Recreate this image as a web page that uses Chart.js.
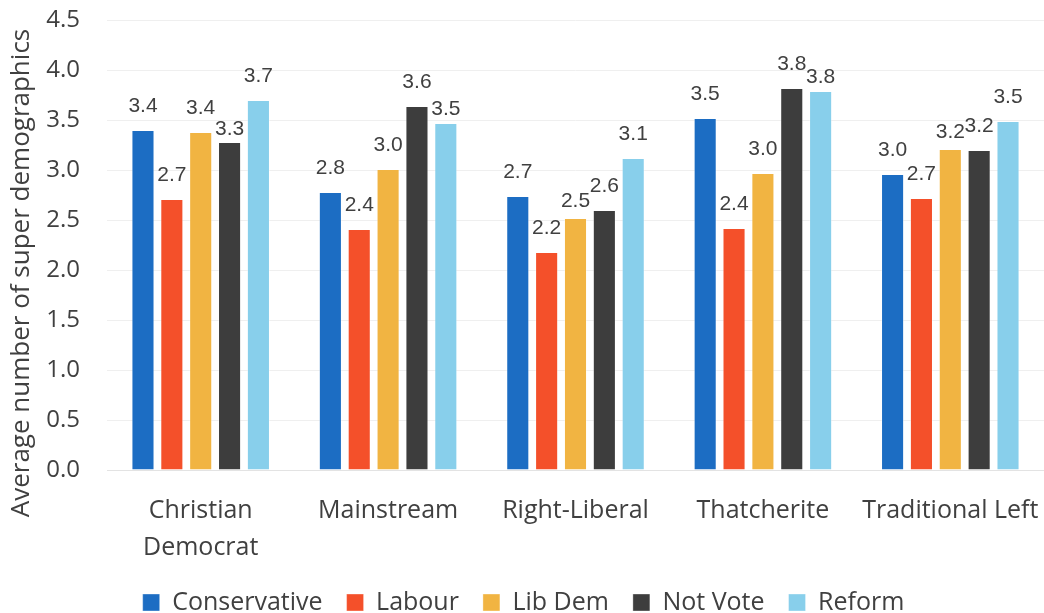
<!DOCTYPE html>
<html>
<head>
<meta charset="utf-8">
<script src="https://cdn.jsdelivr.net/npm/chart.js@4.4.1/dist/chart.umd.min.js"></script>
<style>
  html, body { margin: 0; padding: 0; background: #ffffff; overflow: hidden; }
  #wrap { position: relative; width: 1044px; height: 625px; }
</style>
</head>
<body>
<div id="wrap"><canvas id="c"></canvas></div>
<script>
const categories = [['Christian', 'Democrat'], 'Mainstream', 'Right-Liberal', 'Thatcherite', 'Traditional Left'];
const conservative = [3.40, 2.78, 2.74, 3.52, 2.96];
const labour       = [2.71, 2.41, 2.18, 2.42, 2.72];
const libDem       = [3.38, 3.01, 2.52, 2.97, 3.21];
const notVote      = [3.28, 3.64, 2.60, 3.82, 3.20];
const reform       = [3.70, 3.47, 3.12, 3.79, 3.49];
const seriesNames  = ['Conservative', 'Labour', 'Lib Dem', 'Not Vote', 'Reform'];
const yTickLabels  = ['0.0', '0.5', '1.0', '1.5', '2.0', '2.5', '3.0', '3.5', '4.0', '4.5'];

const colors = ['#1c6dc3', '#f4502a', '#f1b442', '#3d3d3d', '#88cfeb'];
const TEXT = '#404040';
const FONT = "'Open Sans', 'DejaVu Sans', sans-serif";

const valueLabels = {
  id: 'valueLabels',
  afterDatasetsDraw(chart, args, opts) {
    const ctx = chart.ctx;
    ctx.save();
    ctx.font = opts.font;
    ctx.fillStyle = opts.color;
    ctx.textAlign = 'center';
    ctx.textBaseline = 'alphabetic';
    chart.data.datasets.forEach((ds, di) => {
      chart.getDatasetMeta(di).data.forEach((bar, i) => {
        const key = di + ',' + i;
        const gap = (key in opts.gaps) ? opts.gaps[key] : opts.gap;
        ctx.fillText(ds.data[i].toFixed(1), bar.x, bar.y - gap);
      });
    });
    ctx.restore();
  }
};

// shifts the y-axis title along the axis (it is centred lower than the plot area in the reference)
const titleShift = {
  id: 'titleShift',
  beforeDraw(chart, args, opts) {
    const s = chart.scales.y;
    if (s._titleShiftPatched) return;
    const orig = s.drawTitle.bind(s);
    s.drawTitle = function () {
      const t = this.top, b = this.bottom;
      this.top += opts.dy; this.bottom += opts.dy;
      orig();
      this.top = t; this.bottom = b;
    };
    s._titleShiftPatched = true;
  }
};

const seriesData = [conservative, labour, libDem, notVote, reform];

new Chart(document.getElementById('c'), {
  type: 'bar',
  data: {
    labels: categories,
    datasets: seriesNames.map((name, k) => ({
      label: name,
      data: seriesData[k],
      backgroundColor: colors[k],
      borderColor: 'rgba(255,255,255,0.35)',
      borderWidth: 1,
      categoryPercentage: 0.77,
      barPercentage: 0.8
    }))
  },
  options: {
    responsive: true,
    maintainAspectRatio: false,
    animation: false,
    devicePixelRatio: 1,
    layout: { padding: { top: 20, left: 0, right: -3, bottom: 0 } },
    plugins: {
      legend: {
        position: 'bottom',
        labels: {
          boxWidth: 17, boxHeight: 17, padding: 24,
          color: TEXT,
          font: { family: FONT, size: 25 }
        }
      },
      tooltip: { enabled: false },
      valueLabels: {
        font: "21px 'Liberation Sans', Arial, sans-serif",
        color: TEXT,
        gap: 18,
        gaps: { '3,0': 7, '4,1': 8, '2,2': 11, '4,3': 8, '2,4': 11 }
      },
      titleShift: { dy: 28 }
    },
    scales: {
      x: {
        grid: { display: false, drawTicks: false },
        border: { display: true, color: '#e3e3e3', width: 1 },
        ticks: {
          color: TEXT,
          padding: 22,
          font: { family: FONT, size: 25, lineHeight: 1.48 },
          maxRotation: 0, autoSkip: false
        },
        afterFit: (scale) => { scale.height = 96; scale.paddingLeft = 0; scale.paddingRight = 0; }
      },
      y: {
        min: 0, max: 4.5,
        grid: { color: '#efefef', drawTicks: false },
        border: { display: false },
        ticks: {
          stepSize: 0.5,
          color: TEXT,
          padding: 27,
          font: { family: FONT, size: 24 },
          callback: (v, i) => yTickLabels[i]
        },
        title: {
          display: true,
          text: 'Average number of super demographics',
          color: TEXT,
          font: { family: FONT, size: 26 },
          padding: { top: 6, bottom: 4 }
        },
        afterFit: (scale) => { scale.width = 107; scale.paddingTop = 0; scale.paddingBottom = 0; }
      }
    }
  },
  plugins: [valueLabels, titleShift]
});
</script>
</body>
</html>
